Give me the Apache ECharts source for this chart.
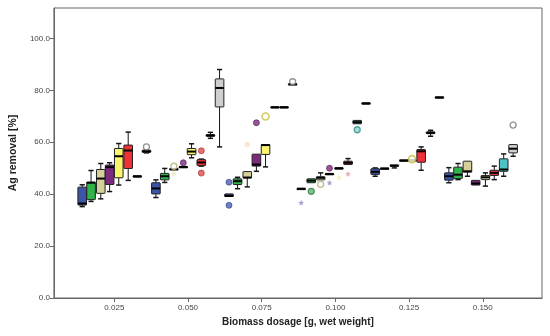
<!DOCTYPE html>
<html><head><meta charset="utf-8">
<script src="https://cdn.jsdelivr.net/npm/echarts@6/dist/echarts.min.js"></script>
<style>html,body{margin:0;padding:0;background:#fff}#c{width:550px;height:336px}</style>
</head><body><div id="c"></div>
<script>
// ---- data ----
const dosage = [0.0141,0.0171,0.0204,0.0234,0.0265,0.0297,0.0328,0.0359,
  0.0391,0.0421,0.0452,0.0484,0.0512,0.0545,0.0576,0.0607,
  0.0639,0.0668,0.0701,0.0732,0.0763,0.0795,0.0826,0.0855,
  0.0884,0.0918,0.0950,0.0980,0.1012,0.1043,0.1074,0.1104,
  0.1135,0.1167,0.1200,0.1232,0.1260,0.1291,0.1323,0.1353,
  0.1385,0.1416,0.1448,0.1476,0.1509,0.1539,0.1571,0.1603];
const whiskerLow = [35.2,37.2,38.2,41.0,43.5,45.3,46.7,55.9,
  38.7,44.5,49.3,50.3,54.0,50.8,61.5,58.2,
  39.1,42.1,42.8,48.8,50.5,73.3,73.3,82.1,
  41.9,44.4,45.5,47.6,49.8,51.4,67.1,74.8,
  46.9,49.7,50.1,52.8,52.9,49.2,62.3,77.1,
  44.4,45.6,46.9,43.5,43.1,45.6,46.9,54.6];
const q1 = [35.8,37.9,40.3,43.7,46.3,49.9,46.8,56.1,
  40.1,45.5,49.4,50.4,55.2,51.0,62.3,73.6,
  39.1,43.7,46.3,50.8,55.3,73.4,73.4,82.2,
  42.0,44.4,45.5,47.7,49.9,51.4,67.1,74.9,
  47.6,49.8,50.8,52.9,53.0,52.3,63.3,77.2,
  45.4,46.0,48.5,43.5,45.6,47.2,48.8,55.9];
const median = [36.4,44.4,46.0,50.4,54.6,56.8,46.9,56.5,
  42.2,46.9,49.6,50.5,56.4,52.2,62.6,80.9,
  39.3,45.0,46.4,51.4,58.9,73.5,73.5,82.3,
  42.1,45.2,46.3,47.8,50.0,52.1,67.7,75.0,
  48.6,49.9,51.0,53.0,53.1,56.5,63.6,77.3,
  46.9,47.5,48.8,44.1,46.5,48.2,49.5,57.5];
const q3 = [42.7,44.6,49.5,51.2,57.6,58.9,47.0,56.9,
  44.4,48.0,49.8,50.6,57.6,53.3,62.9,84.4,
  40.1,45.9,48.7,55.4,59.1,73.6,73.6,82.5,
  42.2,45.9,46.7,47.9,50.1,52.7,68.4,75.1,
  49.8,50.0,51.2,53.1,53.2,57.2,64.0,77.4,
  48.2,50.4,52.7,45.3,47.2,49.2,53.6,59.1];
const whiskerHigh = [43.6,49.1,51.8,52.1,59.5,63.9,47.1,57.1,
  45.5,49.9,49.9,50.7,59.4,53.5,63.8,88.0,
  40.1,46.5,48.7,55.4,59.1,73.7,73.7,82.6,
  42.3,45.9,48.2,48.0,50.2,53.7,68.4,75.2,
  50.1,50.1,51.2,53.2,53.3,58.2,64.6,77.5,
  50.2,51.8,52.7,45.3,48.2,50.8,55.5,59.1];
const outlierDosage = [0.0359,0.0452,0.0452,0.0484,0.0545,0.0545,
  0.0639,0.0639,0.0701,0.0732,0.0763,0.0855,
  0.0884,0.0918,0.0950,0.0980,0.0980,0.1012,0.1043,0.1074,
  0.1260,0.1603];
const outlierValue = [58.2,50.7,47.9,52.1,56.7,48.1,
  44.6,35.7,59.1,67.5,69.9,83.3,
  36.7,41.1,43.8,50.0,44.4,46.3,47.8,64.8,
  53.5,66.6];
const xTickValues = [0.025,0.050,0.075,0.100,0.125,0.150];
const yTickValues = [0,20,40,60,80,100];

// ---- styles ----
const C = {blue:'#3d55a8',green:'#2fb34a',tan:'#d5cf9a',purple:'#7b2a7e',yellow:'#faf56e',
  red:'#ee3338',teal:'#4dc3c6',gray:'#cfcfcf',black:'#1a1a1a',dteal:'#2f9c98',dred:'#b8333a',dblue:'#2c3f8a'};
const boxColor = ['blue','green','tan','purple','yellow','red','black','black',
  'blue','green','black','black','yellow','red','black','gray',
  'dblue','green','tan','purple','yellow','black','black','black',
  'black','green','tan','black','black','dred','dteal','black',
  'blue','black','black','black','black','red','teal','black',
  'blue','green','tan','purple','tan','red','teal','gray'];
const STAR = 'path://M0,-10L2.9,-4L9.5,-3.1L4.7,1.5L5.9,8.1L0,5L-5.9,8.1L-4.7,1.5L-9.5,-3.1L-2.9,-4Z';
const outlierStyle = ['grayRing','tanRing','tanFaint','purpleDot','redDot','redDot',
  'blueDot','blueDot','peachFaint','purpleDot','yellowRing','grayRing',
  'lilacStar','greenRing','tanRing','purpleDot','lilacStar','yellowFaint','pinkStar','tealRing',
  'yellowRing','grayRing'];
const styleDefs = {
  grayRing:{symbol:'circle',size:6,fill:'#fff',stroke:'#777',lw:1.3},
  tanRing:{symbol:'circle',size:6,fill:'#fff',stroke:'#b9b27a',lw:1.5},
  tanFaint:{symbol:'circle',size:4,fill:'#ece8cf',stroke:'#e6e0c0',lw:0.5},
  purpleDot:{symbol:'circle',size:6,fill:'#7b2a7e',stroke:'#4f1a52',lw:0.8},
  redDot:{symbol:'circle',size:6,fill:'#e24a4d',stroke:'#a42a2d',lw:0.8},
  blueDot:{symbol:'circle',size:6,fill:'#4b5fae',stroke:'#2c3f8a',lw:0.8},
  peachFaint:{symbol:'circle',size:5,fill:'#f7e0cd',stroke:'#f7e0cd',lw:0.5},
  yellowRing:{symbol:'circle',size:7,fill:'#fff',stroke:'#c6bd3c',lw:1.6},
  lilacStar:{symbol:STAR,size:5,fill:'#9a8fc9',stroke:'#9a8fc9',lw:0.3},
  greenRing:{symbol:'circle',size:6,fill:'#5fb86a',stroke:'#2d7d45',lw:1.2},
  yellowFaint:{symbol:'circle',size:4,fill:'#f7f3b8',stroke:'#f7f3b8',lw:0.5},
  pinkStar:{symbol:STAR,size:5,fill:'#e79aa0',stroke:'#e79aa0',lw:0.3},
  tealRing:{symbol:'circle',size:6,fill:'#8fd3d3',stroke:'#2f8f8c',lw:1.3}
};

const boxData = dosage.map((d,i)=>[d, whiskerLow[i], q1[i], median[i], q3[i], whiskerHigh[i]]);
const outData = outlierDosage.map((d,i)=>{
  const s = styleDefs[outlierStyle[i]];
  return {value:[d, outlierValue[i]], symbol:s.symbol, symbolSize:s.size,
    itemStyle:{color:s.fill, borderColor:s.stroke, borderWidth:s.lw}};
});

function renderBox(params, api){
  const x = api.value(0);
  const pL = api.coord([x, api.value(1)]);
  const p1 = api.coord([x, api.value(2)]);
  const pM = api.coord([x, api.value(3)]);
  const p3 = api.coord([x, api.value(4)]);
  const pH = api.coord([x, api.value(5)]);
  const cx = pM[0], hw = 4.3, cw = 2.6;
  const ls = {stroke:'#151515', lineWidth:1};
  const col = C[boxColor[params.dataIndex]];
  const ch = [];
  if (pH[1] < p3[1] - 0.5) {
    ch.push({type:'line', shape:{x1:cx,y1:pH[1],x2:cx,y2:p3[1]}, style:ls});
    ch.push({type:'line', shape:{x1:cx-cw,y1:pH[1],x2:cx+cw,y2:pH[1]}, style:{stroke:'#151515',lineWidth:1.5}});
  }
  if (pL[1] > p1[1] + 0.5) {
    ch.push({type:'line', shape:{x1:cx,y1:p1[1],x2:cx,y2:pL[1]}, style:ls});
    ch.push({type:'line', shape:{x1:cx-cw,y1:pL[1],x2:cx+cw,y2:pL[1]}, style:{stroke:'#151515',lineWidth:1.5}});
  }
  const h = Math.max(p1[1]-p3[1], 1.2);
  ch.push({type:'rect', shape:{x:cx-hw, y:p3[1], width:2*hw, height:h, r:0.5},
    style:{fill:col, stroke:'#222', lineWidth:1}});
  ch.push({type:'line', shape:{x1:cx-hw,y1:pM[1],x2:cx+hw,y2:pM[1]}, style:{stroke:'#000',lineWidth:2}});
  return {type:'group', children:ch};
}

const chart = echarts.init(document.getElementById('c'), null, {renderer:'canvas'});
const FONT = 'Liberation Sans, Arial, sans-serif';
chart.setOption({
  animation:false,
  backgroundColor:'#fff',
  grid:{left:46, right:8, top:8, bottom:38, show:true, borderColor:'#666', borderWidth:1, backgroundColor:'transparent'},
  xAxis:{type:'value', min:0.0045, max:0.1701,
    name:'Biomass dosage [g, wet weight]', nameLocation:'middle', nameGap:18,
    nameTextStyle:{fontFamily:FONT, fontSize:10, fontWeight:'bold', color:'#222'},
    axisLine:{show:true, lineStyle:{color:'#666'}},
    axisTick:{show:true, length:4, customValues:xTickValues, lineStyle:{color:'#666'}},
    axisLabel:{customValues:xTickValues, formatter:v=>v.toFixed(3), fontFamily:FONT, fontSize:8, color:'#444', margin:6},
    splitLine:{show:false}},
  yAxis:{type:'value', min:0, max:111.7,
    name:'Ag removal [%]', nameLocation:'middle', nameGap:32, nameRotate:90,
    nameTextStyle:{fontFamily:FONT, fontSize:10.5, fontWeight:'bold', color:'#222'},
    axisLine:{show:true, lineStyle:{color:'#666'}},
    axisTick:{show:true, length:4, customValues:yTickValues, lineStyle:{color:'#666'}},
    axisLabel:{customValues:yTickValues, formatter:v=>v.toFixed(1), fontFamily:FONT, fontSize:8, color:'#444', margin:4},
    splitLine:{show:false}},
  series:[
    {type:'custom', renderItem:renderBox, data:boxData, encode:{x:0, y:[1,2,3,4,5]}, clip:true, z:2},
    {type:'scatter', data:outData, z:3}
  ]
});
</script></body></html>
